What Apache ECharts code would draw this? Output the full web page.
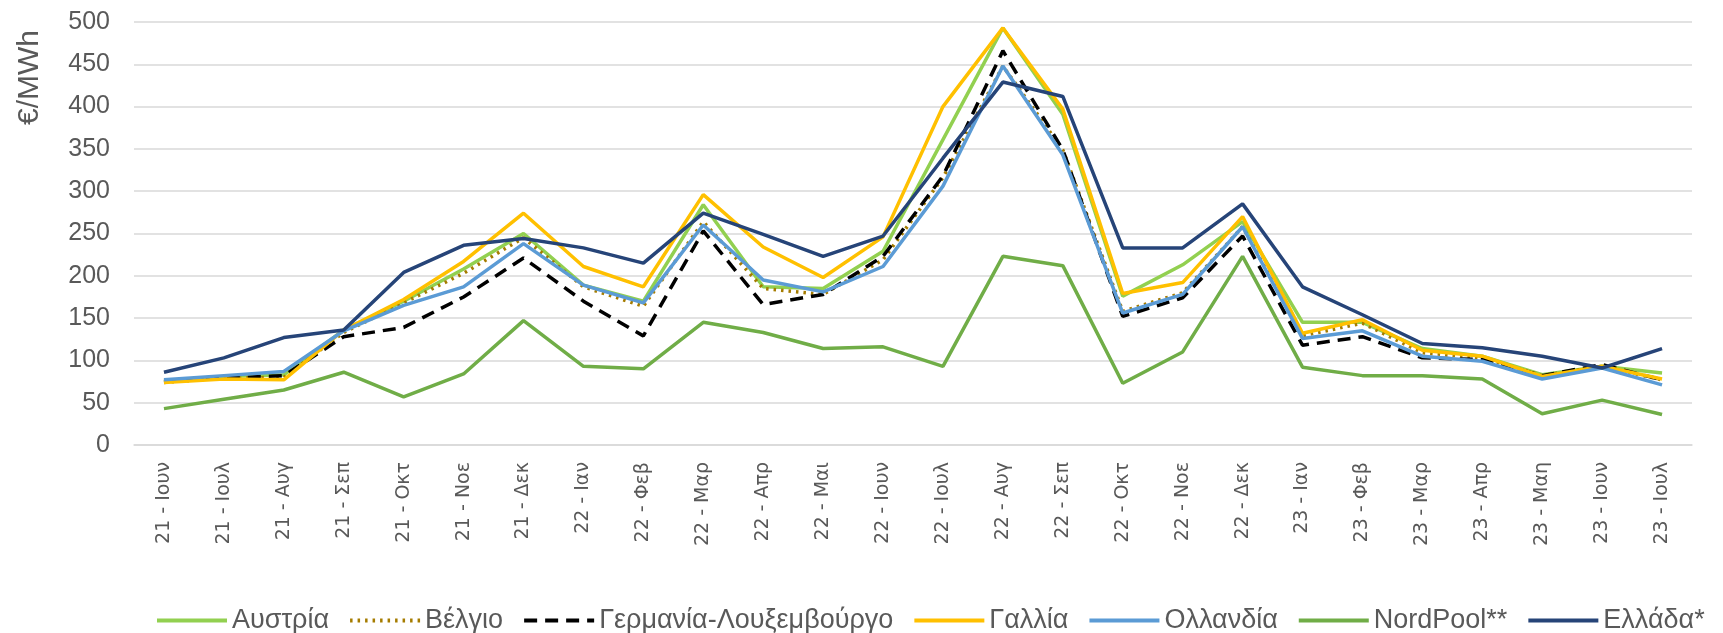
<!DOCTYPE html>
<html>
<head>
<meta charset="utf-8">
<script src="https://cdn.jsdelivr.net/npm/echarts@6/dist/echarts.min.js"></script>
<style>
html,body{margin:0;padding:0;background:#fff;}
#c{width:1723px;height:633px;}
</style>
</head>
<body>
<div id="c"></div>
<script>
const categories = ["21 - Ιουν","21 - Ιουλ","21 - Αυγ","21 - Σεπ","21 - Οκτ","21 - Νοε","21 - Δεκ","22 - Ιαν","22 - Φεβ","22 - Μαρ","22 - Απρ","22 - Μαι","22 - Ιουν","22 - Ιουλ","22 - Αυγ","22 - Σεπ","22 - Οκτ","22 - Νοε","22 - Δεκ","23 - Ιαν","23 - Φεβ","23 - Μαρ","23 - Απρ","23 - Μαη","23 - Ιουν","23 - Ιουλ"];
const austria   = [75, 81, 83, 136, 170, 208, 250, 189, 170, 284, 187, 185, 229, 361, 493, 391, 176, 213, 264, 145, 145, 114, 105, 83, 93, 85];
const belgium   = [74, 79, 80, 133, 168, 203, 245, 187, 164, 264, 185, 178, 219, 316, 448, 349, 158, 180, 258, 129, 144, 109, 103, 82, 93, 77];
const germany   = [75, 79, 82, 128, 139, 175, 221, 170, 129, 253, 166, 178, 223, 318, 466, 349, 152, 174, 247, 118, 128, 103, 101, 82, 95, 77];
const france    = [74, 78, 77, 136, 172, 217, 274, 211, 187, 296, 234, 198, 246, 400, 493, 397, 179, 192, 270, 132, 148, 112, 105, 81, 93, 78];
const netherl   = [77, 82, 87, 135, 165, 187, 238, 189, 168, 260, 195, 181, 211, 306, 448, 343, 156, 178, 258, 126, 135, 105, 99, 78, 91, 71];
const nordpool  = [43, 54, 65, 86, 57, 84, 147, 93, 90, 145, 133, 114, 116, 93, 223, 212, 73, 110, 223, 92, 82, 82, 78, 37, 53, 36];
const greece    = [86, 103, 127, 136, 204, 236, 244, 233, 215, 274, 249, 223, 247, 339, 429, 412, 233, 233, 285, 187, 154, 120, 115, 105, 91, 114];
const seriesNames = ["Αυστρία","Βέλγιο","Γερμανία-Λουξεμβούργο","Γαλλία","Ολλανδία","NordPool**","Ελλάδα*"];
const yTicks = {min: 0, max: 500, interval: 50};

const font = "'Liberation Sans', Arial, sans-serif";
function mk(name, data, color, type, width, z) {
  return {
    name: name, type: 'line', data: data, symbol: 'none', z: z,
    lineStyle: {color: color, width: width, type: type},
    itemStyle: {color: color},
    emphasis: {disabled: true}
  };
}
const chart = echarts.init(document.getElementById('c'), null, {renderer: 'canvas'});
chart.setOption({
  animation: false,
  backgroundColor: '#ffffff',
  grid: {left: 134, right: 31, top: 22, bottom: 188, containLabel: false},
  xAxis: {
    type: 'category', data: categories, boundaryGap: true,
    axisLine: {show: true, lineStyle: {color: '#d9d9d9', width: 1.5}},
    axisTick: {show: false},
    axisLabel: {rotate: 90, interval: 0, color: '#595959', fontSize: 19, fontFamily: "'DejaVu Sans', sans-serif", margin: 17}
  },
  yAxis: {
    type: 'value', min: yTicks.min, max: yTicks.max, interval: yTicks.interval,
    axisLine: {show: false}, axisTick: {show: false},
    splitLine: {lineStyle: {color: '#d9d9d9', width: 1.5}},
    axisLabel: {color: '#595959', fontSize: 25, fontFamily: font, margin: 24}
  },
  legend: {
    top: 602, left: 150, itemWidth: 70, itemHeight: 30, itemGap: 19,
    itemStyle: {opacity: 0},
    lineStyle: {width: 4},
    textStyle: {color: '#595959', fontSize: 27, fontFamily: font},
    data: seriesNames
  },
  graphic: [{
    type: 'text', left: 15, top: 30, rotation: Math.PI/2,
    style: {text: '€/MWh', fill: '#595959', font: "30px 'Liberation Sans', Arial, sans-serif"}
  }],
  series: [
    mk(seriesNames[0], austria, '#92D050', 'solid', 3.5, 2),
    mk(seriesNames[1], belgium, '#A57C00', [2.5, 5], 3.5, 3),
    mk(seriesNames[2], germany, '#000000', [13, 8], 3.5, 4),
    mk(seriesNames[3], france, '#FFC000', 'solid', 3.5, 5),
    mk(seriesNames[4], netherl, '#5B9BD5', 'solid', 3.5, 6),
    mk(seriesNames[5], nordpool, '#70AD47', 'solid', 3.5, 7),
    mk(seriesNames[6], greece, '#264478', 'solid', 3.5, 8)
  ]
});
</script>
</body>
</html>
